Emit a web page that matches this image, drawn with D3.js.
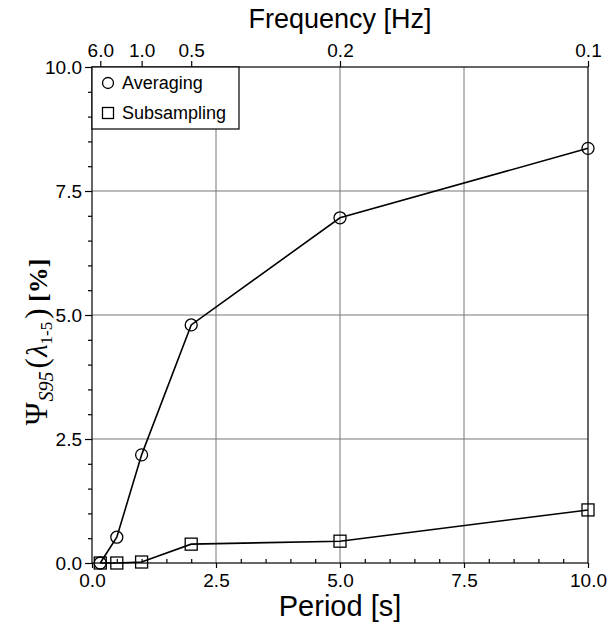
<!DOCTYPE html>
<html>
<head>
<meta charset="utf-8">
<script src="https://cdn.jsdelivr.net/npm/d3@7"></script>
<style>
  html, body { margin: 0; padding: 0; background: #fff; }
  svg { display: block; }
  text { font-family: "Liberation Sans", Arial, Helvetica, sans-serif; fill: #000; }
</style>
</head>
<body>
<svg id="chart" width="616" height="626"></svg>
<script>
// ---- data ----
const periods = [1/6, 0.5, 1, 2, 5, 10];
const averaging = [0.0, 0.52, 2.18, 4.8, 6.96, 8.36];
const subsampling = [0.0, 0.0, 0.02, 0.38, 0.44, 1.07];
const xTicks = [0, 2.5, 5, 7.5, 10];
const yTicks = [0, 2.5, 5, 7.5, 10];
const freqTicks = [6.0, 1.0, 0.5, 0.2, 0.1];
const freqLabels = ["6.0", "1.0", "0.5", "0.2", "0.1"];
const legendNames = ["Averaging", "Subsampling"];

// ---- layout ----
const svg = d3.select("#chart");
const L = 92, R = 588, T = 67, B = 563;
const x = d3.scaleLinear().domain([0, 10]).range([L, R]);
const y = d3.scaleLinear().domain([0, 10]).range([B, T]);

// grid lines
const grid = svg.append("g").attr("stroke", "#777").attr("stroke-width", 1);
grid.selectAll("line.gx").data([2.5, 5, 7.5]).join("line").attr("class", "gx")
  .attr("x1", d => x(d)).attr("x2", d => x(d)).attr("y1", T).attr("y2", B);
grid.selectAll("line.gy").data([2.5, 5, 7.5]).join("line").attr("class", "gy")
  .attr("y1", d => y(d)).attr("y2", d => y(d)).attr("x1", L).attr("x2", R);

// frame
svg.append("rect").attr("x", L).attr("y", T).attr("width", R - L).attr("height", B - T)
  .attr("fill", "none").attr("stroke", "#000").attr("stroke-width", 1.2);

// bottom axis
const minorX = d3.range(0.5, 10, 0.5).filter(v => Math.abs(v % 2.5) > 1e-6);
const bottomAxis = svg.append("g").attr("transform", `translate(0,${B})`)
  .call(d3.axisBottom(x).tickValues(xTicks).tickFormat(d3.format(".1f")).tickSize(5).tickPadding(6));
bottomAxis.select(".domain").remove();
bottomAxis.selectAll("text").attr("font-size", 19).attr("font-family", "Liberation Sans, Arial, sans-serif");
bottomAxis.selectAll("line").attr("stroke-width", 1.2);
svg.append("g").attr("transform", `translate(0,${B})`)
  .call(d3.axisTop(x).tickValues(minorX).tickFormat("").tickSize(4))
  .call(g => g.select(".domain").remove())
  .selectAll("line").attr("stroke-width", 1.2);

// left axis
const minorY = d3.range(0.5, 10, 0.5).filter(v => Math.abs(v % 2.5) > 1e-6);
const leftAxis = svg.append("g").attr("transform", `translate(${L},0)`)
  .call(d3.axisLeft(y).tickValues(yTicks).tickFormat(d3.format(".1f")).tickSize(7).tickPadding(3));
leftAxis.select(".domain").remove();
leftAxis.selectAll("text").attr("font-size", 19).attr("font-family", "Liberation Sans, Arial, sans-serif");
leftAxis.selectAll("line").attr("stroke-width", 1.2);
svg.append("g").attr("transform", `translate(${L},0)`)
  .call(d3.axisLeft(y).tickValues(minorY).tickFormat("").tickSize(4))
  .call(g => g.select(".domain").remove())
  .selectAll("line").attr("stroke-width", 1.2);

// top axis (frequency)
const topAxis = svg.append("g").attr("transform", `translate(0,${T})`)
  .call(d3.axisTop(x).tickValues(freqTicks.map(f => 1 / f))
    .tickFormat((d, i) => freqLabels[i]).tickSize(6).tickPadding(4));
topAxis.select(".domain").remove();
topAxis.selectAll("text").attr("font-size", 19).attr("font-family", "Liberation Sans, Arial, sans-serif");
topAxis.selectAll("line").attr("stroke-width", 1.2);

// axis titles
svg.append("text").attr("x", x(5)).attr("y", 28).attr("text-anchor", "middle")
  .attr("font-size", 27).text("Frequency [Hz]");
svg.append("text").attr("x", x(5)).attr("y", 616).attr("text-anchor", "middle")
  .attr("font-size", 29).text("Period [s]");

const yl = svg.append("text")
  .attr("transform", "translate(47,342) rotate(-90)")
  .attr("text-anchor", "middle")
  .style("font-family", "Liberation Serif, Times New Roman, serif");
yl.append("tspan").attr("font-size", 31).text("Ψ");
yl.append("tspan").attr("font-size", 20).attr("font-style", "italic").attr("dy", 6).attr("dx", 1).text("S95");
yl.append("tspan").attr("font-size", 31).attr("dy", -6).attr("dx", 3).text("(");
yl.append("tspan").attr("font-size", 29).attr("font-style", "italic").attr("dx", 1).text("λ");
yl.append("tspan").attr("font-size", 17).attr("dy", 5).text("1-5");
yl.append("tspan").attr("font-size", 31).attr("dy", -5).attr("dx", 3).text(")");
yl.append("tspan").attr("font-size", 26).attr("font-weight", "bold").text(" [%]");

// data lines
const line = d3.line().x((d, i) => x(periods[i])).y(d => y(d));
svg.append("path").datum(averaging).attr("d", line)
  .attr("fill", "none").attr("stroke", "#000").attr("stroke-width", 1.6);
svg.append("path").datum(subsampling).attr("d", line)
  .attr("fill", "none").attr("stroke", "#000").attr("stroke-width", 1.6);

// markers
svg.append("g").selectAll("circle").data(averaging).join("circle")
  .attr("cx", (d, i) => x(periods[i])).attr("cy", d => y(d)).attr("r", 6)
  .attr("fill", "none").attr("stroke", "#000").attr("stroke-width", 1.3);
const sq = 12;
svg.append("g").selectAll("rect").data(subsampling).join("rect")
  .attr("x", (d, i) => x(periods[i]) - sq / 2).attr("y", d => y(d) - sq / 2)
  .attr("width", sq).attr("height", sq)
  .attr("fill", "none").attr("stroke", "#000").attr("stroke-width", 1.3);

// legend
const lg = svg.append("g");
lg.append("rect").attr("x", L).attr("y", T).attr("width", 147).attr("height", 62)
  .attr("fill", "#fff").attr("stroke", "#000").attr("stroke-width", 1.2);
lg.append("circle").attr("cx", 108).attr("cy", 83).attr("r", 5.5)
  .attr("fill", "none").attr("stroke", "#000").attr("stroke-width", 1.3);
lg.append("rect").attr("x", 108 - 5.5).attr("y", 113 - 5.5).attr("width", 11).attr("height", 11)
  .attr("fill", "none").attr("stroke", "#000").attr("stroke-width", 1.3);
lg.selectAll("text").data(legendNames).join("text")
  .attr("x", 122).attr("y", (d, i) => 89 + i * 30)
  .attr("font-size", 18).text(d => d);
</script>
</body>
</html>
